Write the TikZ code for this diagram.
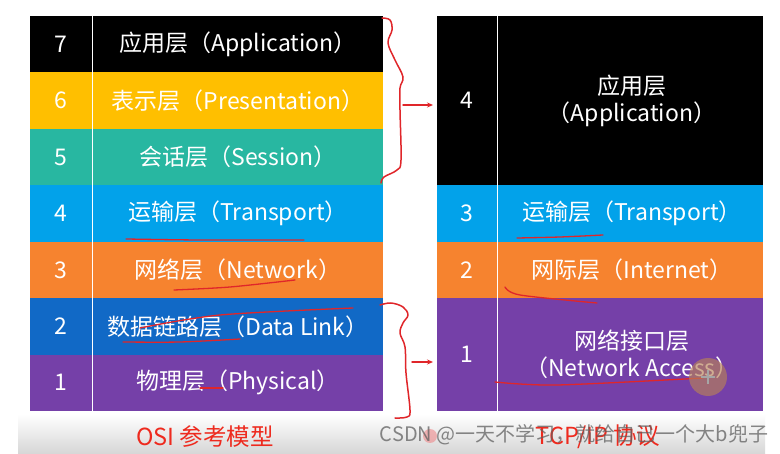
\documentclass[tikz,border=0pt]{standalone}
\usepackage{fontspec}
\setmainfont{Noto Sans CJK SC}
\usetikzlibrary{arrows.meta}
\definecolor{cYellow}{HTML}{FFBF00}
\definecolor{cTeal}{HTML}{28B7A1}
\definecolor{cBlue}{HTML}{02A2EA}
\definecolor{cOrange}{HTML}{F6832F}
\definecolor{cDBlue}{HTML}{1169C6}
\definecolor{cPurple}{HTML}{7540A8}
\definecolor{penred}{HTML}{E0262A}
\definecolor{titlered}{HTML}{EE2A1E}
\definecolor{cursorc}{HTML}{B88258}
\begin{document}
\begin{tikzpicture}[x=1pt,y=-1pt,
  lrow/.style={minimum width=353.5pt, minimum height=56.43pt, inner sep=0pt, outer sep=0pt},
  rrow/.style={minimum width=326pt, inner sep=0pt, outer sep=0pt},
  lbl/.style={text=white, font=\fontsize{23}{27}\selectfont, inner sep=0pt, align=center},
  divider/.style={draw=white, line width=1pt},
  pen/.style={draw=penred, line width=1.5pt, line cap=round, line join=round},
  uline/.style={pen, line width=1.3pt},
  penarrow/.style={pen, -{Stealth[length=6pt,width=5pt]}, shorten >=4pt}]
\useasboundingbox (0,0) rectangle (780,454);
\fill[white] (0,0) rectangle (780,454);
% bottom strip
\shade[top color=white, bottom color=gray!32] (18,414) rectangle (765,454);

% ---------- OSI table ----------
\node[lrow, fill=black]   (l7) at (206.25,44.2)  {};
\node[lrow, fill=cYellow] (l6) at (206.25,100.65) {};
\node[lrow, fill=cTeal]   (l5) at (206.25,157.1) {};
\node[lrow, fill=cBlue]   (l4) at (206.25,213.5) {};
\node[lrow, fill=cOrange] (l3) at (206.25,269.9) {};
\node[lrow, fill=cDBlue]  (l2) at (206.25,326.4) {};
\node[lrow, fill=cPurple] (l1) at (206.25,382.8) {};
\draw[divider] (92,16) -- (92,411);

\node[lbl] (ln7) at (61,44.2)   {7};
\node[lbl] (ln6) at (61,100.65) {6};
\node[lbl] (ln5) at (61,157.1)  {5};
\node[lbl] (ln4) at (61,213.5)  {4};
\node[lbl] (ln3) at (61,269.9)  {3};
\node[lbl] (ln2) at (61,326.4)  {2};
\node[lbl] (ln1) at (61,382.8)  {1};

\node[lbl] (lt7) at (238,44.2)   {应用层（Application）};
\node[lbl] (lt6) at (238,100.65) {表示层（Presentation）};
\node[lbl] (lt5) at (238,157.1)  {会话层（Session）};
\node[lbl] (lt4) at (238,213.5)  {运输层（Transport）};
\node[lbl] (lt3) at (238,269.9)  {网络层（Network）};
\node[lbl] (lt2) at (238,326.4)  {数据链路层（Data Link）};
\node[lbl] (lt1) at (238,382.8)  {物理层（Physical）};

% ---------- TCP/IP table ----------
\node[rrow, fill=black,   minimum height=169.3pt] (r4) at (600,100.65) {};
\node[rrow, fill=cBlue,   minimum height=56.43pt] (r3) at (600,213.5) {};
\node[rrow, fill=cOrange, minimum height=56.43pt] (r2) at (600,269.9) {};
\node[rrow, fill=cPurple, minimum height=112.9pt] (r1) at (600,354.6) {};
\draw[divider] (497,16) -- (497,411);

\node[lbl] (rn4) at (467,100.65) {4};
\node[lbl] (rn3) at (467,213.5)  {3};
\node[lbl] (rn2) at (467,269.9)  {2};
\node[lbl] (rn1) at (467,354.6)  {1};

\node[lbl] (rt4) at (632,100.65) {应用层\\（Application）};
\node[lbl] (rt3) at (632,213.5)  {运输层（Transport）};
\node[lbl] (rt2) at (632,269.9)  {网际层（Internet）};
\node[lbl] (rt1) at (632,354.6)  {网络接口层\\（Network Access）};

% ---------- captions ----------
\node[text=titlered, font=\fontsize{23.5}{27}\selectfont, inner sep=0pt] (osi) at (205,437) {OSI 参考模型};
\node[text=titlered, font=\fontsize{23.5}{27}\selectfont, inner sep=0pt] (tcp) at (598,437) {TCP/IP 协议};
\fill[penred!55, opacity=0.6] (430,436) circle (7);
\node[text=gray!75!black, opacity=0.75, font=\fontsize{20}{24}\selectfont, inner sep=0pt] (wm) at (574,435) {CSDN @一天不学习，就给自己一个大b兜子};

% ---------- red annotations ----------
\draw[pen] plot[smooth, tension=0.6] coordinates {(382,18) (390,20) (392,30) (388,43) (395,60) (403,77) (400,88) (400,110) (401,160) (397,170) (384,177) (381,183)};
\coordinate (a1) at (403,105);
\draw[penarrow] (a1) -- (a1 -| r4.west);

\draw[pen] plot[smooth, tension=0.6] coordinates {(380,305) (391,303) (403,307) (408,315) (403,323) (400,333) (405,347) (406,373) (410,410) (407,417) (395,418)};
\coordinate (a2) at (412,362);
\draw[penarrow] (a2) -- (a2 -| r1.west);

% underlines
\draw[uline] plot[smooth] coordinates {(126,239) (200,240) (304,240)};
\draw[uline] plot[smooth] coordinates {(174,290) (230,287) (295,280)};
\draw[uline] plot[smooth] coordinates {(140,328) (220,315) (353,308)};
\draw[uline] plot[smooth] coordinates {(123,342) (180,342) (240,339)};
\draw[uline] (200,388) -- (223,388);
\draw[uline] plot[smooth] coordinates {(517,238) (560,237) (603,235)};
\draw[uline] plot[smooth] coordinates {(505,287) (520,295) (597,303)};
\draw[uline] plot[smooth] coordinates {(495,382) (557,385) (703,378)};

% cursor
\fill[cursorc, opacity=0.65] (708,377) circle (19);
\draw[gray!70, line width=1.2pt] (701,377) -- (715,377) (708,370) -- (708,384);
\end{tikzpicture}
\end{document}
